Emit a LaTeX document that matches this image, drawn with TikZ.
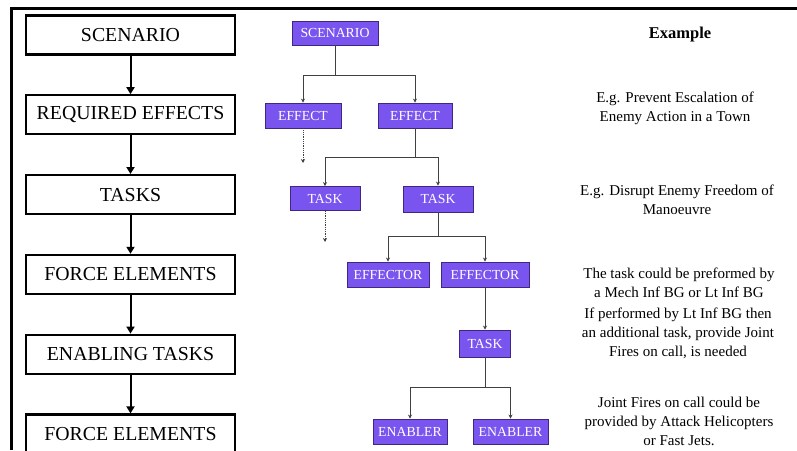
\documentclass[tikz,border=0pt]{standalone}
\usepackage{fontspec}
\setmainfont{Liberation Serif}
\usepackage{tikz}
\usetikzlibrary{arrows.meta,positioning}

\definecolor{unitfill}{RGB}{122,84,238}
\definecolor{unitline}{RGB}{62,40,130}

\begin{document}
\begin{tikzpicture}[x=1pt, y=-1pt, node distance=38.6pt,
    every node/.style={font=\fontsize{15}{19}\selectfont},
    stage/.style={draw, line width=2.2pt, minimum width=209pt, minimum height=39pt,
        inner sep=0pt, font=\fontsize{19.8}{22}\selectfont},
    unit/.style={draw=unitline, line width=0.9pt, fill=unitfill, text=white,
        minimum height=25pt, inner sep=0pt, font=\fontsize{13.8}{15}\selectfont},
    flow/.style={-{Triangle[length=7pt, width=8pt]}, line width=2pt},
    link/.style={-{Stealth[length=4pt, width=4pt]}, line width=0.8pt, draw=black!75},
    maybe/.style={link, densely dotted},
    note/.style={align=center}]
    \useasboundingbox (0,0) rectangle (797,450);

    % frame
    \draw[line width=3pt] (10,8) -- (797,8);
    \draw[line width=3pt] (11,8) -- (11,450);

    % stages
    \node[stage] (s1) at (130.5,35) {SCENARIO};
    \node[stage, below=of s1] (s2) {REQUIRED EFFECTS};
    \node[stage, below=of s2] (s3) {TASKS};
    \node[stage, below=of s3] (s4) {FORCE ELEMENTS};
    \node[stage, below=of s4] (s5) {ENABLING TASKS};
    \node[stage, below=of s5] (s6) {FORCE ELEMENTS};
    \draw[flow] (s1) -- (s2);
    \draw[flow] (s2) -- (s3);
    \draw[flow] (s3) -- (s4);
    \draw[flow] (s4) -- (s5);
    \draw[flow] (s5) -- (s6);

    % tree
    \node[unit, minimum width=86pt, minimum height=24pt] (scen) at (335,33) {SCENARIO};
    \node[unit, minimum width=76pt] (eff1) at (303,115.5) {EFFECT};
    \node[unit, minimum width=74pt] (eff2) at (415,115.5) {EFFECT};
    \node[unit, minimum width=70pt, minimum height=24pt] (task1) at (325,198.5) {TASK};
    \node[unit, minimum width=70pt, minimum height=26pt] (task2) at (438,199) {TASK};
    \node[unit, minimum width=82pt] (efr1) at (388,274.5) {EFFECTOR};
    \node[unit, minimum width=88pt] (efr2) at (485,274.5) {EFFECTOR};
    \node[unit, minimum width=51pt, minimum height=27pt] (task3) at (485,343.5) {TASK};
    \node[unit, minimum width=74pt] (enb1) at (410,431.5) {ENABLER};
    \node[unit, minimum width=75pt] (enb2) at (510.5,431.5) {ENABLER};

    \coordinate (b1) at (335,75);
    \coordinate (b2) at (415,157);
    \coordinate (b3) at (438,236);
    \coordinate (b4) at (485,387);
    \coordinate (d1) at (303,163);
    \coordinate (d2) at (325,242);

    \draw[link] (scen.south) -- (b1) -| (eff1.north);
    \draw[link] (b1) -| (eff2.north);
    \draw[link] (eff2.south) -- (b2) -| (task1.north);
    \draw[link] (b2) -| (task2.north);
    \draw[link] (task2.south) -- (b3) -| (efr1.north);
    \draw[link] (b3) -| (efr2.north);
    \draw[link] (efr2.south) -- (task3.north);
    \draw[link] (task3.south) -- (b4) -| (enb1.north);
    \draw[link] (b4) -| (enb2.north);
    \draw[maybe] (eff1.south) -- (d1);
    \draw[maybe] (task1.south) -- (d2);

    % example column
    \node[font=\fontsize{16.5}{19}\selectfont\bfseries] (ex) at (680,35) {Example};
    \node[note] (ex1) at (675,108) {E.g. Prevent Escalation of\\Enemy Action in a Town};
    \node[note] (ex2) at (677,199.5) {E.g. Disrupt Enemy Freedom of\\Manoeuvre};
    \node[note] (ex3) at (679,282.5) {The task could be preformed by\\a Mech Inf BG or Lt Inf BG};
    \node[note] (ex4) at (678,333.5) {If performed by Lt Inf BG then\\an additional task, provide Joint\\Fires on call, is needed};
    \node[note] (ex5) at (679,421.5) {Joint Fires on call could be\\provided by Attack Helicopters\\or Fast Jets.};
\end{tikzpicture}
\end{document}
